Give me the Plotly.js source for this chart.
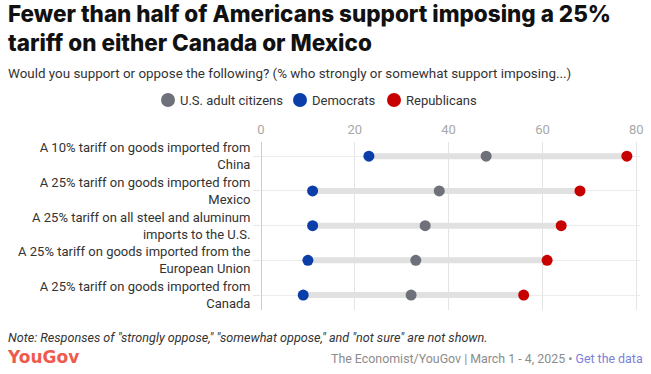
<!DOCTYPE html>
<html>
<head>
<meta charset="utf-8">
<script src="https://cdn.plot.ly/plotly-3.0.1.min.js"></script>
<style>
html,body{margin:0;padding:0;background:#fff;}
#chart{width:651px;height:374px;}
</style>
</head>
<body>
<div id="chart"></div>
<script>
// ---- data ----
const categories = [
  "A 10% tariff on goods imported from<br>China",
  "A 25% tariff on goods imported from<br>Mexico",
  "A 25% tariff on all steel and aluminum<br>imports to the U.S.",
  "A 25% tariff on goods imported from the<br>European Union",
  "A 25% tariff on goods imported from<br>Canada"
];
const adults      = [48, 38, 35, 33, 32];
const democrats   = [23, 11, 11, 10, 9];
const republicans = [78, 68, 64, 61, 56];
const seriesNames = ["U.S. adult citizens", "Democrats", "Republicans"];
const xTicks = [0, 20, 40, 60, 80];

const FONT = "Roboto, 'Liberation Sans', sans-serif";
const colors = {adults: "#6E717A", dem: "#0B3EA8", rep: "#C70000"};
const seriesColors = [colors.adults, colors.dem, colors.rep];

// range bars from the lower to the higher value in each row
const barX = [], barY = [];
categories.forEach((c, i) => {
  const vals = [adults[i], democrats[i], republicans[i]];
  barX.push(Math.min(...vals), Math.max(...vals), null);
  barY.push(c, c, null);
});

const traces = [
  {type: "scatter", mode: "lines", x: barX, y: barY, showlegend: false, hoverinfo: "skip",
   line: {color: "#E1E1E1", width: 6}},
  {type: "scatter", mode: "markers", name: seriesNames[0], x: adults, y: categories,
   marker: {color: colors.adults, size: 11}, showlegend: false},
  {type: "scatter", mode: "markers", name: seriesNames[1], x: democrats, y: categories,
   marker: {color: colors.dem, size: 11}, showlegend: false},
  {type: "scatter", mode: "markers", name: seriesNames[2], x: republicans, y: categories,
   marker: {color: colors.rep, size: 11}, showlegend: false}
];

const L = 261, R = 640, T = 142, B = 310, W = 651, H = 374;
const px = x => (x - L) / (R - L);
const py = y => 1 - (y - T) / (B - T);

// custom legend (dot + label) positioned like the reference
const legendDotX = [168, 300, 394];
const legendY = 100;

const shapes = [
  {type: "line", xref: "x", yref: "paper", x0: 0, x1: 0, y0: 0, y1: 1,
   line: {color: "#9A9A9A", width: 1}}
];
const annotations = [];
seriesNames.forEach((n, i) => {
  shapes.push({type: "circle", xref: "paper", yref: "paper",
    xsizemode: "pixel", ysizemode: "pixel",
    xanchor: px(legendDotX[i]), yanchor: py(legendY),
    x0: -7, x1: 7, y0: -7, y1: 7,
    fillcolor: seriesColors[i], line: {width: 0}});
  annotations.push({xref: "paper", yref: "paper", x: px(legendDotX[i] + 10), y: py(legendY),
    xanchor: "left", yanchor: "middle", showarrow: false, text: n,
    font: {family: FONT, size: 13, color: "#333"}});
});

annotations.push(
  {xref: "paper", yref: "paper", x: px(6), y: py(27.5), xanchor: "left", yanchor: "middle",
   showarrow: false, align: "left",
   text: "Fewer than half of Americans support imposing a 25%<br>tariff on either Canada or Mexico",
   font: {family: "Inter, Roboto, sans-serif", size: 22.5, color: "#111", weight: 800}},
  {xref: "paper", yref: "paper", x: px(6), y: py(73), xanchor: "left", yanchor: "middle",
   showarrow: false, align: "left",
   text: "Would you support or oppose the following? (% who strongly or somewhat support imposing...)",
   font: {family: FONT, size: 13.4, color: "#333"}},
  {xref: "paper", yref: "paper", x: px(6), y: py(337), xanchor: "left", yanchor: "middle",
   showarrow: false, align: "left",
   text: "<i>Note: Responses of \"strongly oppose,\" \"somewhat oppose,\" and \"not sure\" are not shown.</i>",
   font: {family: FONT, size: 12.6, color: "#333"}},
  {xref: "paper", yref: "paper", x: px(5), y: py(357), xanchor: "left", yanchor: "middle",
   showarrow: false, align: "left", text: "<b>YouGov</b>",
   font: {family: "'DejaVu Sans', sans-serif", size: 17, color: "#EE5B4E"}},
  {xref: "paper", yref: "paper", x: px(645), y: py(358), xanchor: "right", yanchor: "middle",
   showarrow: false, align: "right",
   text: "The Economist/YouGov | March 1 - 4, 2025 • <span style=\"color:#7B80D8\">Get the data</span>",
   font: {family: FONT, size: 12.4, color: "#8C8C8C"}}
);

const layout = {
  width: W, height: H,
  margin: {l: L, r: W - R, t: T, b: H - B, pad: 0},
  paper_bgcolor: "#fff", plot_bgcolor: "#fff",
  font: {family: FONT, color: "#333", size: 13},
  showlegend: false,
  xaxis: {
    side: "top", range: [0, 80.8], tickvals: xTicks, ticktext: xTicks.map(String),
    showgrid: true, gridcolor: "#E4E4E4", gridwidth: 1, zeroline: false,
    showline: false, ticks: "", ticklabelstandoff: 4,
    tickfont: {family: FONT, size: 13, color: "#A8A8A8"}, fixedrange: true
  },
  yaxis: {
    type: "category", range: [4.43, -0.41], showgrid: true, gridcolor: "#ECECEC",
    zeroline: false, showline: false, ticks: "outside", ticklen: 7, tickcolor: "#E6E6E6",
    tickfont: {family: FONT, size: 13, color: "#333"}, fixedrange: true
  },
  shapes: shapes,
  annotations: annotations
};

Plotly.newPlot("chart", traces, layout, {displayModeBar: false, staticPlot: true});
</script>
</body>
</html>
